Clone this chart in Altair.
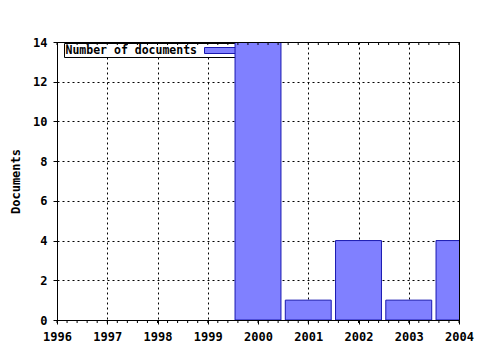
import altair as alt
import pandas as pd

years = [2000, 2001, 2002, 2003, 2004]
documents = [14, 1, 4, 1, 4]
x_ticks = [1996, 1997, 1998, 1999, 2000, 2001, 2002, 2003, 2004]
y_ticks = [0, 2, 4, 6, 8, 10, 12, 14]
minor_x = [1996 + i * 0.2 for i in range(41)]
legend_label = "Number of documents"

half = 0.457
df = pd.DataFrame({"year": years, "docs": documents})
df["x0"] = df["year"] - half
df["x1"] = df["year"] + half

FONT = "DejaVu Sans Mono"
W, H = 402, 278
BAR_FILL = "#8080ff"
BAR_STROKE = "#1818b0"

xscale = alt.Scale(domain=[1996, 2004], nice=False, zero=False)
yscale = alt.Scale(domain=[0, 14], nice=False)

xaxis = alt.Axis(values=x_ticks, format="d", title=None, grid=True,
                 gridDash=[2, 3], gridColor="black", gridOpacity=1,
                 tickSize=4, tickColor="black", domainColor="black",
                 labelFont=FONT, labelFontSize=12, labelFontWeight="bold",
                 labelColor="black", labelPadding=7, labelFlush=False)
yaxis = alt.Axis(values=y_ticks, title="Documents", grid=True,
                 gridDash=[2, 3], gridColor="black", gridOpacity=1,
                 tickSize=4, tickColor="black", domainColor="black",
                 labelFont=FONT, labelFontSize=12, labelFontWeight="bold",
                 labelColor="black", labelPadding=6,
                 titleFont=FONT, titleFontSize=12, titleFontWeight="bold",
                 titleColor="black", titlePadding=10)

legend_df = pd.DataFrame({"label": [legend_label]})

legend_box = alt.Chart(legend_df).mark_rect(fill="white", stroke="black", strokeWidth=1).encode(
    x=alt.value(7.5), x2=alt.value(182), y=alt.value(1.5), y2=alt.value(15.5))
legend_text = alt.Chart(legend_df).mark_text(
    font=FONT, fontSize=11.5, fontWeight="bold", align="left", baseline="middle", color="black"
).encode(x=alt.value(8.5), y=alt.value(8.5), text="label:N")
legend_swatch = alt.Chart(legend_df).mark_rect(fill=BAR_FILL, stroke=BAR_STROKE, strokeWidth=1).encode(
    x=alt.value(147.5), x2=alt.value(182), y=alt.value(5.5), y2=alt.value(11.5))

bars = alt.Chart(df).mark_rect(fill=BAR_FILL, stroke=BAR_STROKE, strokeWidth=1, clip=True).encode(
    x=alt.X("x0:Q", scale=xscale, axis=xaxis),
    x2="x1:Q",
    y=alt.Y("docs:Q", scale=yscale, axis=yaxis),
    y2=alt.datum(0),
)

minor_df = pd.DataFrame({"m": minor_x})
minor_bottom = alt.Chart(minor_df).mark_rule(color="black", strokeWidth=1).encode(
    x=alt.X("m:Q", scale=xscale, axis=xaxis), y=alt.value(H), y2=alt.value(H + 3))
minor_top = alt.Chart(minor_df).mark_rule(color="black", strokeWidth=1).encode(
    x=alt.X("m:Q", scale=xscale, axis=xaxis), y=alt.value(0), y2=alt.value(3))

frame_df = pd.DataFrame({"k": [0]})
frame_top = alt.Chart(frame_df).mark_rule(color="black", strokeWidth=1).encode(
    x=alt.value(0), x2=alt.value(W + 0.5), y=alt.value(0.5))
frame_right = alt.Chart(frame_df).mark_rule(color="black", strokeWidth=1).encode(
    x=alt.value(W + 0.5), y=alt.value(0), y2=alt.value(H))

chart = alt.layer(legend_box, legend_text, legend_swatch, bars, minor_bottom, minor_top,
                  frame_top, frame_right).properties(
    width=W, height=H,
    autosize=alt.AutoSizeParams(type="none"),
    padding={"left": 57, "top": 42, "right": 21, "bottom": 30},
).configure_view(stroke=None).configure(background="white")

chart.save("out.html", embed_options={"renderer": "svg", "actions": False})
